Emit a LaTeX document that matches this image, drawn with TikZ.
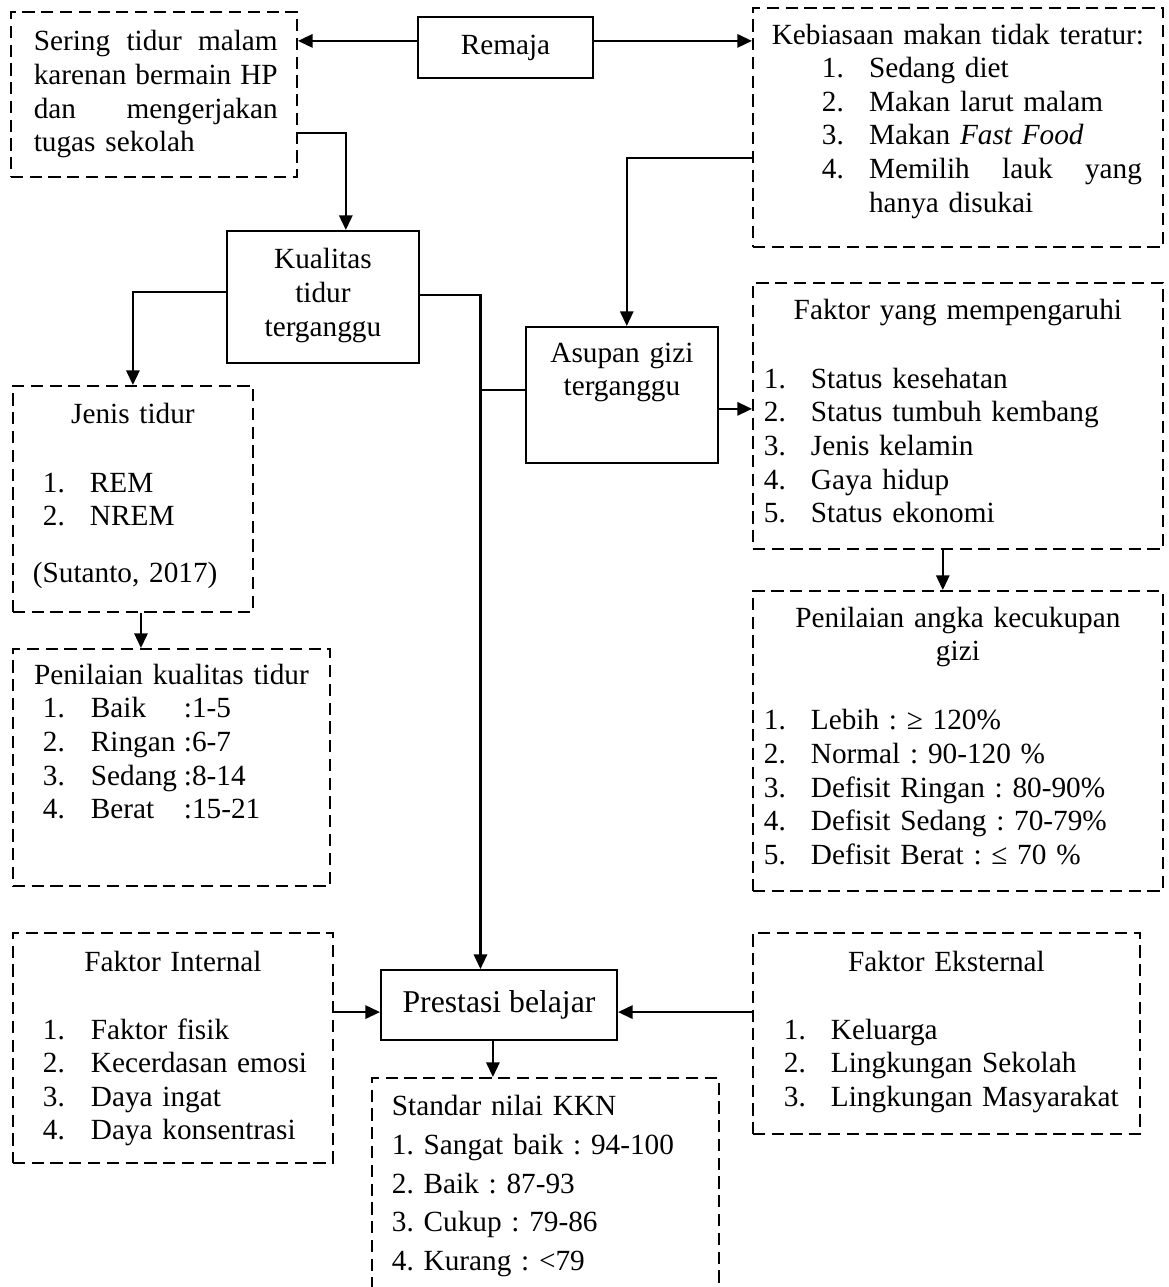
\documentclass[tikz,border=0pt]{standalone}
\usepackage{fontspec}
\setmainfont{Liberation Serif}
\usetikzlibrary{arrows.meta}
\frenchspacing
\newcommand{\ctr}[1]{\makebox[\linewidth][c]{#1}\par}
\newcommand{\itm}[4]{\hspace*{#1}\makebox[#2][l]{#3}#4\par}

\begin{document}
\begin{tikzpicture}[x=0.41pt,y=-0.41pt,
  box/.style={draw, line width=0.75pt, inner sep=0pt, anchor=north west, align=left, font=\fontsize{12pt}{13.8pt}\selectfont},
  dbox/.style={box, dash pattern=on 5pt off 2.7pt},
  sbox/.style={draw, line width=0.75pt, font=\fontsize{12pt}{13.8pt}\selectfont},
  arr/.style={-{Triangle[length=6pt,width=5.4pt]}, line width=1pt},
  ln/.style={line width=0.75pt}]
\path[use as bounding box, clip] (0,0) rectangle (1168,1287);

% top row
\node[sbox, minimum width=71.75pt, minimum height=25pt] (r) at (505.5,47.5) {Remaja};
\node[dbox, text width=117.3pt, text height=16pt, text depth=51.7pt] (sr) at (10,11) {%
  \hspace*{9.4pt}\makebox[100pt][s]{Sering\hfill tidur\hfill malam}\par
  \hspace*{9.4pt}\makebox[100pt][s]{karenan\hfill bermain\hfill HP}\par
  \hspace*{9.4pt}\makebox[100pt][s]{dan\hfill mengerjakan}\par
  \hspace*{9.4pt}tugas sekolah\par};
\node[dbox, text width=168.1pt, text height=14.8pt, text depth=83.2pt] (kb) at (752,7) {%
  \ctr{Kebiasaan makan tidak teratur:}
  \itm{28.3pt}{19.3pt}{1.}{Sedang diet}
  \itm{28.3pt}{19.3pt}{2.}{Makan larut malam}
  \itm{28.3pt}{19.3pt}{3.}{Makan \textit{Fast Food}}
  \itm{28.3pt}{19.3pt}{4.}{\makebox[111.9pt][s]{Memilih\hfill lauk\hfill yang}}
  \hspace*{47.6pt}hanya disukai\par};

% middle
\node[box, text width=78.7pt, text height=15.6pt, text depth=38.5pt] (kt) at (226,230) {%
  \ctr{Kualitas}\ctr{tidur}\ctr{terganggu}};
\node[box, text width=78.7pt, text height=14.4pt, text depth=41.4pt] (ag) at (525,326) {%
  \ctr{Asupan gizi}\ctr{terganggu}};
\node[dbox, text width=168.1pt, text height=14.8pt, text depth=94.3pt] (fy) at (752,282) {%
  \ctr{Faktor yang mempengaruhi}
  \vspace*{14.5pt}
  \itm{4.5pt}{19.3pt}{1.}{Status kesehatan}
  \itm{4.5pt}{19.3pt}{2.}{Status tumbuh kembang}
  \itm{4.5pt}{19.3pt}{3.}{Jenis kelamin}
  \itm{4.5pt}{19.3pt}{4.}{Gaya hidup}
  \itm{4.5pt}{19.3pt}{5.}{Status ekonomi}};
\node[dbox, text width=168.1pt, text height=14.8pt, text depth=108.2pt] (pa) at (752,590) {%
  \ctr{Penilaian angka kecukupan}
  \ctr{gizi}
  \vspace*{14.5pt}
  \itm{4.5pt}{19.3pt}{1.}{Lebih : ≥ 120\%}
  \itm{4.5pt}{19.3pt}{2.}{Normal : 90-120 \%}
  \itm{4.5pt}{19.3pt}{3.}{Defisit Ringan : 80-90\%}
  \itm{4.5pt}{19.3pt}{4.}{Defisit Sedang : 70-79\%}
  \itm{4.5pt}{19.3pt}{5.}{Defisit Berat : ≤ 70 \%}};
\node[dbox, text width=98.4pt, text height=15.6pt, text depth=77.1pt] (jt) at (12,385) {%
  \ctr{Jenis tidur}
  \vspace*{14.1pt}
  \itm{12.3pt}{19.3pt}{1.}{REM}
  \itm{12.3pt}{19.3pt}{2.}{NREM}
  \vspace*{9.6pt}
  \hspace*{8.2pt}(Sutanto, 2017)\par};
\node[dbox, text width=130pt, text height=14.4pt, text depth=82.8pt] (pk) at (12,648) {%
  \ctr{Penilaian kualitas tidur}
  \itm{12.3pt}{19.7pt}{1.}{\makebox[38.1pt][l]{Baik}:1-5}
  \itm{12.3pt}{19.7pt}{2.}{\makebox[38.1pt][l]{Ringan}:6-7}
  \itm{12.3pt}{19.7pt}{3.}{\makebox[38.1pt][l]{Sedang}:8-14}
  \itm{12.3pt}{19.7pt}{4.}{\makebox[38.1pt][l]{Berat}:15-21}};

% bottom row
\node[dbox, text width=131.2pt, text height=16pt, text depth=78.3pt] (fi) at (12,932) {%
  \ctr{Faktor Internal}
  \vspace*{13.7pt}
  \itm{12.3pt}{19.7pt}{1.}{Faktor fisik}
  \itm{12.3pt}{19.7pt}{2.}{Kecerdasan emosi}
  \itm{12.3pt}{19.7pt}{3.}{Daya ingat}
  \itm{12.3pt}{19.7pt}{4.}{Daya konsentrasi}};
\node[sbox, minimum width=96.8pt, minimum height=28.7pt, font=\fontsize{13pt}{15pt}\selectfont] (pb) at (499,1005) {Prestasi belajar};
\node[dbox, text width=158.7pt, text height=16pt, text depth=66.4pt] (fe) at (752,932) {%
  \ctr{Faktor Eksternal}
  \vspace*{13.7pt}
  \itm{12.7pt}{19.3pt}{1.}{Keluarga}
  \itm{12.7pt}{19.3pt}{2.}{Lingkungan Sekolah}
  \itm{12.7pt}{19.3pt}{3.}{Lingkungan Masyarakat}};
\node[dbox, text width=142.3pt, text height=15.6pt, text depth=80pt, font=\fontsize{12pt}{15.8pt}\selectfont] (sn) at (371,1077) {%
  \hspace*{8.2pt}Standar nilai KKN\par
  \hspace*{8.2pt}1. Sangat baik : 94-100\par
  \hspace*{8.2pt}2. Baik : 87-93\par
  \hspace*{8.2pt}3. Cukup : 79-86\par
  \hspace*{8.2pt}4. Kurang : <79\par};

% connectors
\coordinate (rl) at ([yshift=2.7pt]r.west);
\coordinate (rr) at ([yshift=2.7pt]r.east);
\draw[arr] (rl) -- (rl -| sr.east);
\draw[arr] (rr) -- (rr -| kb.west);
\draw[arr] ([yshift=-15.8pt]sr.east) -| ([xshift=9.4pt]kt.north);
\draw[arr] ([yshift=2pt]kt.west) -| (jt.north);
\coordinate (trunk) at ([xshift=-7.6pt]pb.north);
\draw[arr] ([yshift=0.8pt]kt.east) -| (trunk);
\coordinate (aw) at ([yshift=2pt]ag.west);
\draw[ln] (aw) -- (aw -| trunk);
\draw[arr] ([yshift=-12.5pt]kb.west) -| ([xshift=2pt]ag.north);
\coordinate (ae) at ([yshift=-5.7pt]ag.east);
\draw[arr] (ae) -- (ae -| fy.west);
\coordinate (fs) at ([xshift=-6.2pt]fy.south);
\draw[arr] (fs) -- (fs |- pa.north);
\coordinate (js) at ([xshift=3.3pt]jt.south);
\draw[arr] (js) -- (js |- pk.north);
\coordinate (pw) at ([yshift=-2.9pt]pb.west);
\coordinate (pe) at ([yshift=-2.9pt]pb.east);
\draw[arr] (pw -| fi.east) -- (pw);
\draw[arr] (pe -| fe.west) -- (pe);
\coordinate (ps) at ([xshift=-2.5pt]pb.south);
\draw[arr] (ps) -- (ps |- sn.north);
\end{tikzpicture}
\end{document}
